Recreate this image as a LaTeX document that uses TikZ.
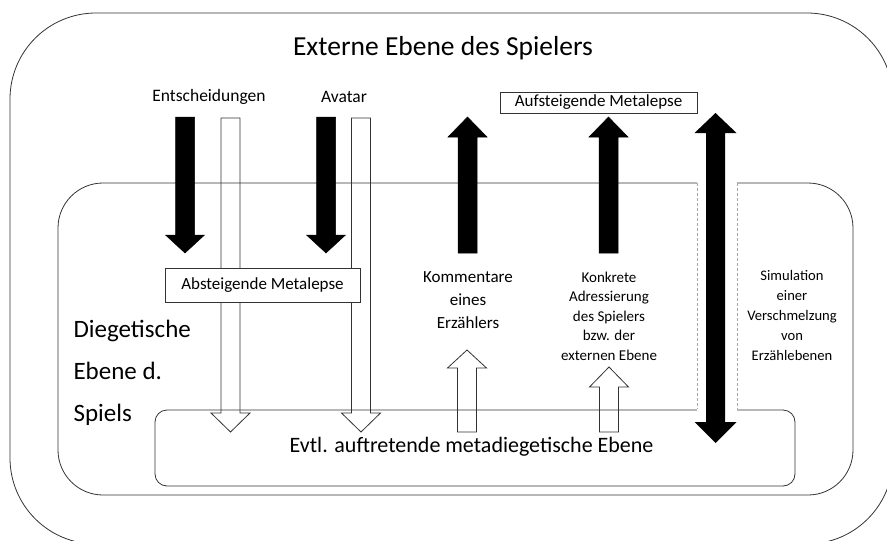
\documentclass[tikz,border=0pt]{standalone}
\usepackage{fontspec}
\setmainfont{Carlito}

% block arrow: [style]{x}{start}{head base}{tip}
\newcommand{\blockarrow}[5][]{%
  \draw[#1] (#2-9.5,#3) -- (#2-9.5,#4) -- (#2-19.5,#4) -- (#2,#5)
    -- (#2+19.5,#4) -- (#2+9.5,#4) -- (#2+9.5,#3) -- cycle;}

\begin{document}
\begin{tikzpicture}[x=1pt,y=-1pt,
    levelbox/.style={draw=black!80, line width=0.8pt},
    tagbox/.style={draw=black!80, line width=0.8pt, fill=white, inner sep=0pt, font=\fontsize{17}{20}\selectfont},
    hollow/.style={draw=black!80, line width=0.8pt},
    blackarrow/.style={fill=black, draw=black, line width=0.5pt},
    gap/.style={draw=black!35, dash pattern=on 3pt off 2pt, line width=0.6pt}]
      \useasboundingbox (0,0) rectangle (887,541);
      \clip (0,0) rectangle (887,541);
      % the three levels
      \draw[levelbox, rounded corners=86pt] (10,13) rectangle (893,544);
      \draw[levelbox, rounded corners=45pt] (58,183) rectangle (853,495);
      \draw[levelbox, rounded corners=12pt] (155,410) rectangle (795,486);
      % opening for the merging of levels
      \fill[white] (697,181) rectangle (737,411);
      \draw[gap] (697,183) -- (697,409);
      \draw[gap] (737,183) -- (737,409);
      % arrows
      \blockarrow[blackarrow]{185}{117}{235}{253}
      \blockarrow[blackarrow]{326}{117}{235}{253}
      \blockarrow[hollow]{230.5}{118}{413}{432}
      \blockarrow[hollow]{361}{118}{413}{432}
      \blockarrow[blackarrow]{467.5}{253}{137}{117}
      \blockarrow[blackarrow]{608.5}{253}{137}{117}
      \blockarrow[hollow]{467}{432}{368}{350}
      \blockarrow[hollow]{609}{432}{387}{367}
      \fill (715.5,113) -- (736.5,133) -- (725,133) -- (725,422) -- (736.5,422) -- (715.5,443)
        -- (694.5,422) -- (706,422) -- (706,133) -- (694.5,133) -- cycle;
      % texts
      \node[font=\fontsize{27.5}{30}\selectfont] (extern) at (443,48) {Externe Ebene des Spielers};
      \node[anchor=north west, align=left, font=\fontsize{25}{42}\selectfont] (diegese) at (70,317) {Diegetische\\Ebene d.\\Spiels};
      \node[font=\fontsize{17.5}{20}\selectfont] (entsch) at (209,97) {Entscheidungen};
      \node[font=\fontsize{17.5}{20}\selectfont] (avatar) at (344,97) {Avatar};
      \node[tagbox, minimum width=195pt, minimum height=34pt] (absteig) at (262.5,285) {Absteigende Metalepse};
      \node[tagbox, minimum width=197pt, minimum height=21pt] (aufsteig) at (598.5,102.5) {Aufsteigende Metalepse};
      \node[align=center, font=\fontsize{17}{23}\selectfont] (kommentar) at (468,300) {Kommentare\\eines\\Erzählers};
      \node[align=center, font=\fontsize{15}{19.5}\selectfont] (adress) at (609,316) {Konkrete\\Adressierung\\des Spielers\\bzw. der\\externen Ebene};
      \node[align=center, font=\fontsize{14.6}{20}\selectfont] (simul) at (792,315) {Simulation\\einer\\Verschmelzung\\von\\Erzählebenen};
      \node[font=\fontsize{22}{26}\selectfont] (meta) at (471.5,447) {Evtl. auftretende metadiegetische Ebene};
\end{tikzpicture}
\end{document}
